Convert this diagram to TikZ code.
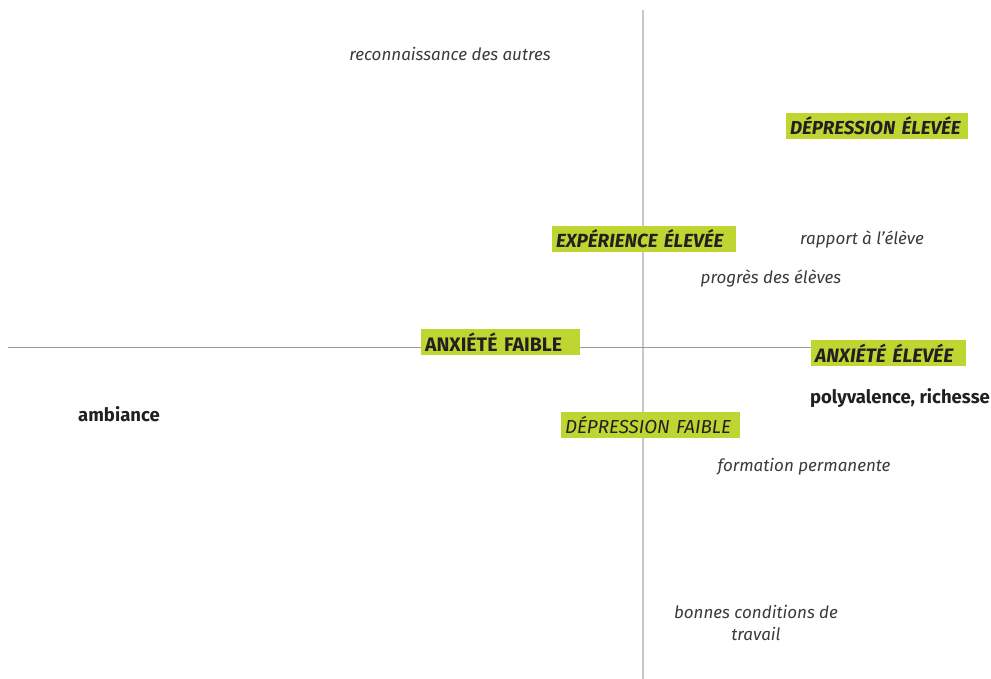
\documentclass[tikz,border=0pt]{standalone}
\usepackage{fontspec}
\setmainfont{Fira Sans}
\usepackage{tikz}
\usetikzlibrary{backgrounds}
\definecolor{limegreen}{HTML}{BDD631}
\definecolor{inkgray}{HTML}{231F20}
\definecolor{notegray}{HTML}{3A3A3A}
\definecolor{haxisgray}{HTML}{9A9A9A}
\definecolor{vaxisgray}{HTML}{C8C8C8}

\begin{document}
\begin{tikzpicture}[x=1pt,y=-1pt,
  tag/.style={fill=limegreen,text=inkgray,inner xsep=4pt,inner ysep=0pt,minimum height=26pt,align=left},
  note/.style={text=notegray,font=\itshape\fontsize{17}{22}\selectfont,align=center},
  key/.style={text=inkgray,font=\bfseries\fontsize{18.5}{20}\selectfont}]
  \useasboundingbox (0,0) rectangle (991,679);
  % green tags
  \node[tag,text width=174pt,font=\bfseries\itshape\fontsize{18.8}{20}\selectfont] (depHigh) at (877,126) {DÉPRESSION ÉLEVÉE};
  \node[tag,text width=176pt,font=\bfseries\itshape\fontsize{19}{20}\selectfont] (expHigh) at (644,239) {EXPÉRIENCE ÉLEVÉE};
  \node[tag,text width=151pt,font=\bfseries\fontsize{19.5}{20}\selectfont] (anxLow) at (500.5,342) {ANXIÉTÉ FAIBLE};
  \node[tag,text width=147pt,font=\bfseries\itshape\fontsize{19.4}{20}\selectfont] (anxHigh) at (888.5,353) {ANXIÉTÉ ÉLEVÉE};
  \node[tag,text width=171pt,font=\itshape\fontsize{18.8}{20}\selectfont] (depLow) at (650.5,425) {DÉPRESSION FAIBLE};
  % factors
  \node[note] (recon) at (450,54) {reconnaissance des autres};
  \node[note] (rapport) at (862,240) {rapport à l'élève};
  \node[note] (progres) at (771,279) {progrès des élèves};
  \node[note] (formation) at (804,467) {formation permanente};
  \node[note] (conditions) at (756,623) {bonnes conditions de\\travail};
  \node[key] (ambiance) at (119,414) {ambiance};
  \node[key] (polyv) at (900,398) {polyvalence, richesse};
  % axes
  \coordinate (vtop) at (643,10);
  \coordinate (vbot) at (643,679);
  \coordinate (hleft) at (8,347);
  \begin{pgfonlayer}{background}
    \draw[vaxisgray,line width=1.6pt] (vtop) -- (vbot);
    \draw[haxisgray,line width=1pt] (hleft) -- (hleft -| anxHigh.west);
  \end{pgfonlayer}
\end{tikzpicture}
\end{document}
